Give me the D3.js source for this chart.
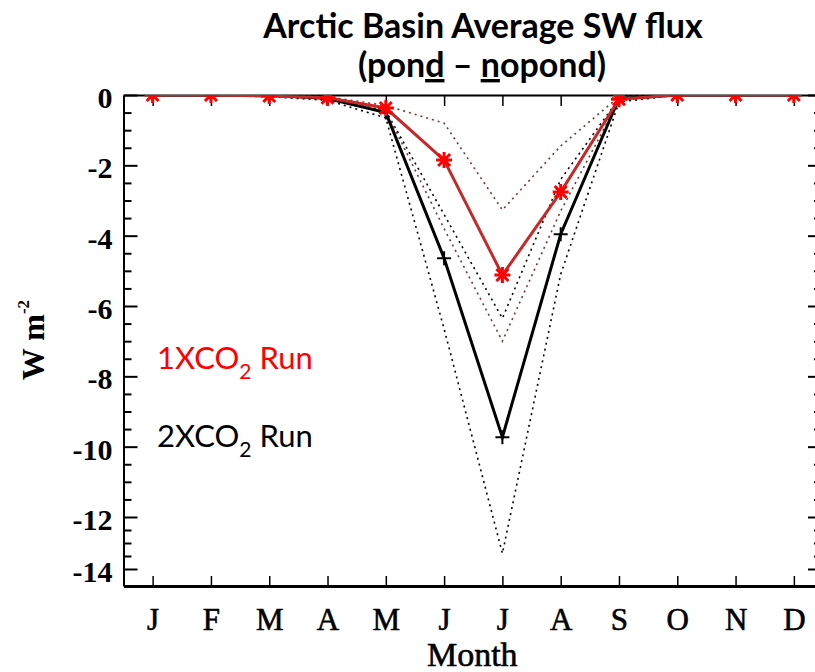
<!DOCTYPE html>
<html>
<head>
<meta charset="utf-8">
<script src="https://cdn.jsdelivr.net/npm/d3@7"></script>
<style>
  body { margin: 0; background: #fff; }
  svg { display: block; }
  .serif { font-family: 'Liberation Serif', 'Times New Roman', serif; fill: #000; }
  .bold { font-weight: 700; }
  .sans { font-family: Lato, 'Open Sans', sans-serif; }
  .axis path, .axis line { stroke: #000; }
</style>
</head>
<body>
<div id="chart"></div>
<script>
// monthly Arctic-basin mean SW flux difference, pond - nopond (W m-2)
const months = ['J', 'F', 'M', 'A', 'M', 'J', 'J', 'A', 'S', 'O', 'N', 'D'];
const run1x    = [0, 0, -0.03, -0.08, -0.37, -1.85, -5.12, -2.76, -0.12, 0, 0, 0];
const run2x    = [0, 0, 0, -0.1, -0.5, -4.64, -9.73, -3.96, -0.1, 0, 0, 0];
// spread of the individual runs (dotted)
const run1xMax = [0, 0, 0, -0.05, -0.3, -0.8, -3.27, -1.45, -0.05, 0, 0, 0];
const run1xMin = [0, 0, -0.05, -0.1, -0.45, -3.8, -7.0, -3.3, -0.15, 0, 0, 0];
const run2xMax = [0, 0, 0, -0.1, -0.45, -3.4, -6.35, -2.4, -0.1, 0, 0, 0];
const run2xMin = [0, 0, -0.05, -0.15, -0.65, -6.65, -13.4, -5.1, -0.2, 0, 0, 0];
const yTicks = [0, -2, -4, -6, -8, -10, -12, -14];

const width = 815, height = 672;
const margin = { left: 123.5, right: 823, top: 95, bottom: 586 };

const svg = d3.select('#chart').append('svg')
  .attr('width', width)
  .attr('height', height);

// scales (y axis of the original is squeezed below -12)
const x = d3.scaleLinear().domain([0.5, 12.5]).range([margin.left, margin.right]);
const y = d3.scaleLinear().domain([0, -12, -14, -14.65]).range([margin.top, 517, 569, margin.bottom]);

const minorTicks = d3.range(0, -12, -0.5).concat([-12.5, -13, -13.5])
  .filter(d => d % 2 !== 0);

svg.append('defs').append('clipPath').attr('id', 'plot-clip')
  .append('rect')
  .attr('x', margin.left).attr('y', margin.top)
  .attr('width', margin.right - margin.left).attr('height', margin.bottom - margin.top);

// axes
const yLeft = svg.append('g')
  .attr('class', 'axis')
  .attr('transform', `translate(${margin.left},0)`)
  .call(d3.axisLeft(y).tickValues(yTicks).tickSizeInner(-14).tickSizeOuter(0).tickPadding(11)
    .tickFormat(d => d < 0 ? '-' + Math.abs(d) : d));
yLeft.select('.domain').attr('stroke-width', 2);
yLeft.selectAll('line').attr('stroke-width', 2);
yLeft.selectAll('text')
  .attr('class', 'serif bold')
  .attr('font-size', 30)
  .attr('dy', '0.42em');

svg.append('g')
  .attr('class', 'axis')
  .attr('transform', `translate(${margin.left},0)`)
  .call(d3.axisLeft(y).tickValues(minorTicks).tickSizeInner(-8).tickSizeOuter(0).tickFormat(''))
  .call(g => g.select('.domain').remove())
  .selectAll('line').attr('stroke-width', 2);

const yRight = svg.append('g')
  .attr('class', 'axis')
  .attr('transform', `translate(${margin.right - 1},0)`)
  .call(d3.axisRight(y).tickValues(yTicks).tickSizeInner(-14).tickSizeOuter(0).tickFormat(''));
yRight.selectAll('line, path').attr('stroke-width', 2);
svg.append('g')
  .attr('class', 'axis')
  .attr('transform', `translate(${margin.right - 1},0)`)
  .call(d3.axisRight(y).tickValues(minorTicks).tickSizeInner(-8).tickSizeOuter(0).tickFormat(''))
  .call(g => g.select('.domain').remove())
  .selectAll('line').attr('stroke-width', 2);

const xBottom = svg.append('g')
  .attr('class', 'axis')
  .attr('transform', `translate(0,${margin.bottom})`)
  .call(d3.axisBottom(x).tickValues(d3.range(1, 13)).tickSizeInner(-10).tickSizeOuter(0).tickPadding(22)
    .tickFormat(d => months[d - 1]));
xBottom.select('.domain').attr('stroke-width', 3).attr('stroke', '#222');
xBottom.selectAll('line').attr('stroke-width', 1.5);
xBottom.selectAll('text')
  .attr('class', 'serif')
  .attr('font-size', 31)
  .attr('stroke', '#000')
  .attr('stroke-width', 0.6);

svg.append('g')
  .attr('class', 'axis')
  .attr('transform', `translate(0,${margin.top})`)
  .call(d3.axisTop(x).tickValues(d3.range(1, 13)).tickSizeInner(-11).tickSizeOuter(0).tickFormat(''))
  .call(g => g.select('.domain').attr('stroke-width', 2))
  .selectAll('line').attr('stroke-width', 1.5);

// axis titles
svg.append('text')
  .attr('class', 'serif')
  .attr('x', (margin.left + width) / 2 + 3)
  .attr('y', 666)
  .attr('text-anchor', 'middle')
  .attr('font-size', 34)
  .attr('stroke', '#000')
  .attr('stroke-width', 0.6)
  .text('Month');

const yTitle = svg.append('text')
  .attr('class', 'serif bold')
  .attr('transform', 'translate(44,340) rotate(-90)')
  .attr('text-anchor', 'middle')
  .attr('font-size', 32);
yTitle.append('tspan').text('W m');
yTitle.append('tspan').attr('font-size', 17).attr('dy', '-0.9em').text('-2');

// chart title
const title = svg.append('text')
  .attr('class', 'sans')
  .attr('text-anchor', 'middle')
  .attr('font-weight', 700)
  .attr('font-size', 34);
title.append('tspan').attr('x', 483).attr('y', 38).text('Arctic Basin Average SW flux');
const t2 = title.append('tspan').attr('x', 482).attr('y', 77);
t2.append('tspan').text('(pon');
t2.append('tspan').style('text-decoration', 'underline').text('d');
t2.append('tspan').text(' \u2013 ');
t2.append('tspan').style('text-decoration', 'underline').text('n');
t2.append('tspan').text('opond)');

// data
const plot = svg.append('g').attr('clip-path', 'url(#plot-clip)');
const line = d3.line()
  .x((d, i) => x(i + 1))
  .y(d => y(d));

const dotted = [
  { values: run2xMin, color: '#000' },
  { values: run2xMax, color: '#000' },
  { values: run1xMin, color: '#7a3434' },
  { values: run1xMax, color: '#7a3434' }
];

plot.selectAll('.spread')
  .data(dotted)
  .join('path')
    .attr('class', 'spread')
    .attr('d', d => line(d.values))
    .attr('fill', 'none')
    .attr('stroke', d => d.color)
    .attr('stroke-width', 1.6)
    .attr('stroke-dasharray', '2,4');

plot.append('path')
  .attr('d', line(run2x))
  .attr('fill', 'none')
  .attr('stroke', '#000')
  .attr('stroke-width', 3);

plot.selectAll('.plus')
  .data(run2x)
  .join('path')
    .attr('class', 'plus')
    .attr('transform', (d, i) => `translate(${x(i + 1)},${y(d)})`)
    .attr('d', 'M-7,0H7M0,-7V7')
    .attr('stroke', '#000')
    .attr('stroke-width', 2);

plot.append('path')
  .attr('d', line(run1x))
  .attr('fill', 'none')
  .attr('stroke', '#c42a2a')
  .attr('stroke-width', 3);

plot.selectAll('.star')
  .data(run1x)
  .join('path')
    .attr('class', 'star')
    .attr('transform', (d, i) => `translate(${x(i + 1)},${y(d)})`)
    .attr('d', 'M-8,0H8M0,-8V8M-6,-6L6,6M-6,6L6,-6')
    .attr('stroke', '#ff0000')
    .attr('stroke-width', 3);

// legend
const legend = [
  { n: '1', color: '#ff0000', y: 369 },
  { n: '2', color: '#000', y: 447 }
];
legend.forEach(l => {
  const t = svg.append('text')
    .attr('class', 'sans')
    .attr('x', 157)
    .attr('y', l.y)
    .attr('font-size', 31)
    .attr('fill', l.color);
  t.append('tspan').text(l.n + 'XCO');
  t.append('tspan').attr('font-size', 21).attr('dy', 10).text('2');
  t.append('tspan').attr('dy', -10).text(' Run');
});
</script>
</body>
</html>
